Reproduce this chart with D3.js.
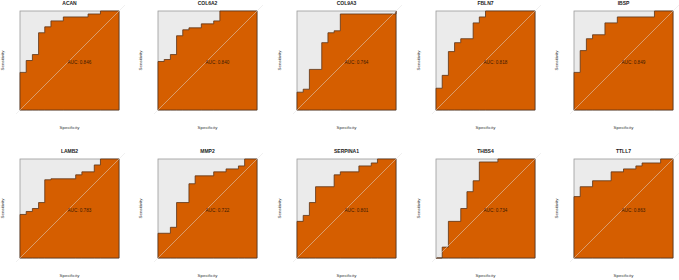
<!DOCTYPE html>
<html>
<head>
<meta charset="utf-8">
<script src="https://cdn.jsdelivr.net/npm/d3@7"></script>
<style>
  body { margin: 0; background: #fff; }
  svg { display: block; font-family: "Liberation Sans", Arial, sans-serif; }
</style>
</head>
<body>
<script>
// gene names, in panel order
var genes = ["ACAN", "COL6A2", "COL9A3", "FBLN7", "IBSP",
             "LAMB2", "MMP2", "SERPINA1", "THBS4", "TTLL7"];

var aucLabels = ["AUC: 0.846", "AUC: 0.840", "AUC: 0.764", "AUC: 0.818", "AUC: 0.849",
                 "AUC: 0.783", "AUC: 0.722", "AUC: 0.801", "AUC: 0.734", "AUC: 0.863"];

// step points of each ROC curve: at each specificity the curve rises to the sensitivity
var specs = [
  [1, 0.9375, 0.875, 0.8125, 0.75, 0.6875, 0.5625, 0.3125, 0.1875],
  [1, 0.9375, 0.875, 0.8125, 0.75, 0.6875, 0.5625, 0.4375, 0.375],
  [1, 0.9375, 0.875, 0.75, 0.6875, 0.625, 0.5625, 0],
  [1, 0.9375, 0.875, 0.8125, 0.75, 0.625, 0.5625, 0.5],
  [1, 0.9375, 0.875, 0.8125, 0.6875, 0.5625, 0.1875],
  [1, 0.9375, 0.875, 0.8125, 0.75, 0.6875, 0.4375, 0.375, 0.25, 0.1875],
  [1, 0.875, 0.8125, 0.6875, 0.625, 0.4375, 0.3125, 0.1875, 0.125],
  [1, 0.9375, 0.875, 0.8125, 0.625, 0.5625, 0.375, 0.25, 0.1875],
  [0.9375, 0.875, 0.75, 0.6875, 0.625, 0.5625, 0.375],
  [1, 0.9375, 0.8125, 0.625, 0.5, 0.375, 0.3125, 0.125]
];

var sens = [
  [0.38, 0.50, 0.56, 0.78, 0.84, 0.90, 0.94, 0.97, 1],
  [0.49, 0.51, 0.56, 0.75, 0.81, 0.83, 0.87, 0.90, 1],
  [0.18, 0.21, 0.41, 0.68, 0.78, 0.80, 0.97, 1],
  [0.22, 0.35, 0.59, 0.68, 0.72, 0.88, 0.94, 1],
  [0.38, 0.60, 0.72, 0.76, 0.88, 0.94, 1],
  [0.44, 0.47, 0.50, 0.56, 0.79, 0.80, 0.84, 0.87, 0.94, 1],
  [0.25, 0.31, 0.56, 0.75, 0.83, 0.87, 0.90, 0.93, 1],
  [0.37, 0.43, 0.56, 0.72, 0.84, 0.87, 0.93, 0.96, 1],
  [0.11, 0.37, 0.50, 0.67, 0.78, 0.97, 1],
  [0.62, 0.72, 0.78, 0.87, 0.90, 0.93, 0.96, 1]
];

var svgWidth = 679;
var svgHeight = 280;

// panel layout
var colLeft = [20, 158, 297, 436, 574];
var rowTop = [11, 159];
var boxSize = 99;

var svg = d3.select("body")
  .append("svg")
  .attr("width", svgWidth)
  .attr("height", svgHeight);

genes.forEach(function(gene, i) {
  var left = colLeft[i % 5];
  var top = rowTop[Math.floor(i / 5)];

  var x = d3.scaleLinear().domain([1, 0]).range([left, left + boxSize]);
  var y = d3.scaleLinear().domain([0, 1]).range([top + boxSize, top]);

  // build the curve points, starting at spec 1 / sens 0 and ending at spec 0 / sens 1
  var pts = [{sp: 1, se: 0}];
  specs[i].forEach(function(s, j) { pts.push({sp: s, se: sens[i][j]}); });
  pts.push({sp: 0, se: 1});

  var g = svg.append("g");

  // grey plot background
  g.append("rect")
    .attr("x", x(1))
    .attr("y", y(1))
    .attr("width", x(0) - x(1))
    .attr("height", y(0) - y(1))
    .attr("fill", "#ebebeb")
    .attr("stroke", "#9a9a9a")
    .attr("stroke-width", 0.8);

  var area = d3.area()
    .curve(d3.curveStepAfter)
    .x(d => x(d.sp))
    .y0(y(0))
    .y1(d => y(d.se));

  g.append("path")
    .datum(pts)
    .attr("d", area)
    .attr("fill", "#d55e00")
    .attr("stroke", "#5a3418")
    .attr("stroke-width", 0.8);

  // chance diagonal, running a little past the box
  g.append("line")
    .attr("x1", x(1.04)).attr("y1", y(-0.04))
    .attr("x2", x(-0.06)).attr("y2", y(1.06))
    .attr("stroke", "#e0e0e0")
    .attr("stroke-opacity", 0.55)
    .attr("stroke-width", 0.9);

  g.append("text")
    .attr("x", x(0.4))
    .attr("y", y(0.48))
    .attr("dy", "0.35em")
    .attr("text-anchor", "middle")
    .attr("font-size", 4.6)
    .attr("fill", "#3a1a05")
    .text(aucLabels[i]);

  // title
  g.append("text")
    .attr("x", x(0.5))
    .attr("y", top - 6)
    .attr("text-anchor", "middle")
    .attr("font-size", 5)
    .attr("font-weight", "bold")
    .attr("fill", "#222")
    .text(gene);

  g.append("text")
    .attr("x", x(0.5))
    .attr("y", top + boxSize + 19)
    .attr("text-anchor", "middle")
    .attr("font-size", 4.4)
    .attr("fill", "#333")
    .text("Specificity");

  g.append("text")
    .attr("transform", `translate(${left - 16}, ${y(0.5)}) rotate(-90)`)
    .attr("text-anchor", "middle")
    .attr("font-size", 4.4)
    .attr("fill", "#333")
    .text("Sensitivity");
});
</script>
</body>
</html>
